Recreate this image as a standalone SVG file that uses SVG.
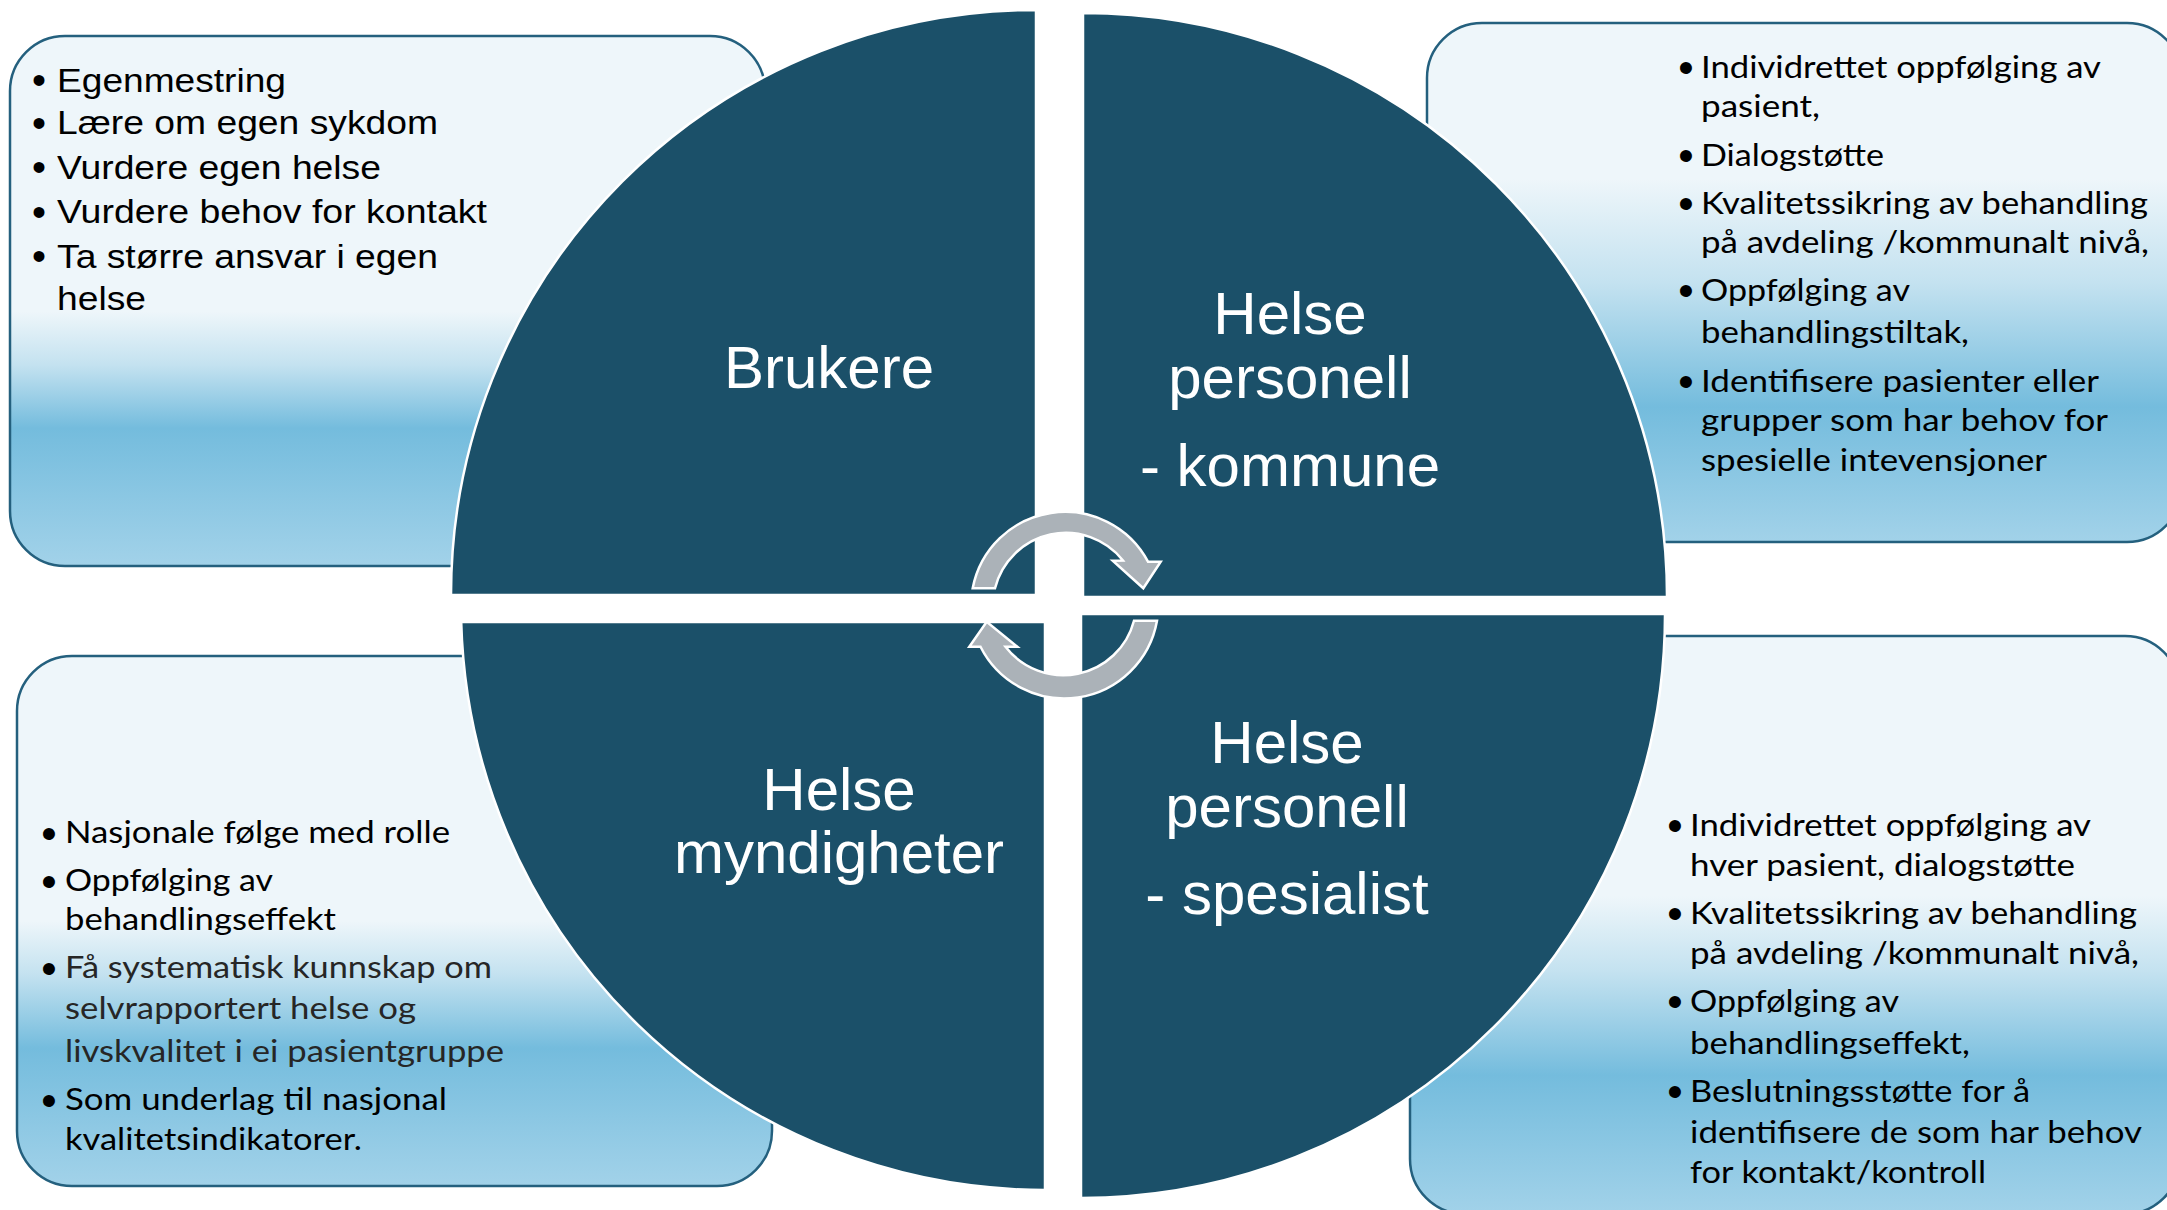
<svg xmlns="http://www.w3.org/2000/svg" width="2167" height="1210" viewBox="0 0 2167 1210">
<defs>
<linearGradient id="gTL" x1="0" y1="0" x2="0" y2="1">
<stop offset="0" stop-color="#eef6fa"/><stop offset="0.52" stop-color="#eef6fa"/><stop offset="0.62" stop-color="#c4e2f0"/><stop offset="0.74" stop-color="#74bcdd"/><stop offset="1" stop-color="#a2d2e9"/>
</linearGradient>
<linearGradient id="gTR" x1="0" y1="0" x2="0" y2="1">
<stop offset="0" stop-color="#eef6fa"/><stop offset="0.3" stop-color="#eef6fa"/><stop offset="0.5" stop-color="#c4e2f0"/><stop offset="0.74" stop-color="#74bcdd"/><stop offset="1" stop-color="#a2d2e9"/>
</linearGradient>
<linearGradient id="gBL" x1="0" y1="0" x2="0" y2="1">
<stop offset="0" stop-color="#eef6fa"/><stop offset="0.5" stop-color="#eef6fa"/><stop offset="0.6" stop-color="#c4e2f0"/><stop offset="0.74" stop-color="#74bcdd"/><stop offset="1" stop-color="#a2d2e9"/>
</linearGradient>
<linearGradient id="gBR" x1="0" y1="0" x2="0" y2="1">
<stop offset="0" stop-color="#eef6fa"/><stop offset="0.45" stop-color="#eef6fa"/><stop offset="0.58" stop-color="#c4e2f0"/><stop offset="0.76" stop-color="#74bcdd"/><stop offset="1" stop-color="#a2d2e9"/>
</linearGradient>
</defs>
<style>
.box{stroke:#24607e;stroke-width:2.5}
.quad{fill:#1b5069;stroke:#ffffff;stroke-width:2.5}
.lbl{font-family:"Liberation Sans",Arial,sans-serif;font-size:60px;fill:#ffffff;text-anchor:middle}
.la{font-family:"Liberation Sans",Arial,sans-serif;font-size:32.6px;fill:#000000}
.lc{font-family:Lato,"Open Sans",sans-serif;font-size:30.3px;fill:#000000}
.gray{fill:#262626}
.ba{font-family:"Liberation Sans",Arial,sans-serif;font-size:40px;fill:#000000;text-anchor:middle}
.bc{font-family:"Liberation Sans",Arial,sans-serif;font-size:44px;fill:#000000;text-anchor:middle}
.arrow{fill:#abb2b8;stroke:#ffffff;stroke-width:2.5;stroke-linejoin:miter}
</style>
<rect width="2167" height="1210" fill="#ffffff"/>

<g id="box-brukere">
<rect class="box" x="10" y="36" width="755" height="530" rx="55" ry="55" fill="url(#gTL)"/>
<text class="ba" x="39" y="94">•</text>
<text class="ba" x="39" y="137">•</text>
<text class="ba" x="39" y="181">•</text>
<text class="ba" x="39" y="226">•</text>
<text class="ba" x="39" y="270">•</text>
<text class="la" x="57" y="91.5" textLength="229" lengthAdjust="spacingAndGlyphs">Egenmestring</text>
<text class="la" x="57" y="134" textLength="381" lengthAdjust="spacingAndGlyphs">Lære om egen sykdom</text>
<text class="la" x="57" y="178.5" textLength="324" lengthAdjust="spacingAndGlyphs">Vurdere egen helse</text>
<text class="la" x="57" y="223" textLength="430" lengthAdjust="spacingAndGlyphs">Vurdere behov for kontakt</text>
<text class="la" x="57" y="268" textLength="381" lengthAdjust="spacingAndGlyphs">Ta større ansvar i egen</text>
<text class="la" x="57" y="310" textLength="89" lengthAdjust="spacingAndGlyphs">helse</text>
</g>

<g id="box-kommune">
<rect class="box" x="1427" y="23" width="755" height="519" rx="55" ry="55" fill="url(#gTR)"/>
<text class="bc" x="1686" y="83">•</text>
<text class="bc" x="1686" y="171">•</text>
<text class="bc" x="1686" y="219">•</text>
<text class="bc" x="1686" y="306">•</text>
<text class="bc" x="1686" y="397">•</text>
<text class="lc" x="1701" y="78" textLength="400" lengthAdjust="spacingAndGlyphs">Individrettet oppfølging av</text>
<text class="lc" x="1701" y="117" textLength="119" lengthAdjust="spacingAndGlyphs">pasient,</text>
<text class="lc" x="1701" y="166" textLength="183" lengthAdjust="spacingAndGlyphs">Dialogstøtte</text>
<text class="lc" x="1701" y="214" textLength="447" lengthAdjust="spacingAndGlyphs">Kvalitetssikring av behandling</text>
<text class="lc" x="1701" y="253" textLength="448" lengthAdjust="spacingAndGlyphs">på avdeling /kommunalt nivå,</text>
<text class="lc" x="1701" y="301" textLength="209" lengthAdjust="spacingAndGlyphs">Oppfølging av</text>
<text class="lc" x="1701" y="343" textLength="268" lengthAdjust="spacingAndGlyphs">behandlingstiltak,</text>
<text class="lc" x="1701" y="392" textLength="398" lengthAdjust="spacingAndGlyphs">Identifisere pasienter eller</text>
<text class="lc" x="1701" y="431" textLength="407" lengthAdjust="spacingAndGlyphs">grupper som har behov for</text>
<text class="lc" x="1701" y="471" textLength="346" lengthAdjust="spacingAndGlyphs">spesielle intevensjoner</text>
</g>

<g id="box-myndigheter">
<rect class="box" x="17" y="656" width="755" height="530" rx="55" ry="55" fill="url(#gBL)"/>
<text class="bc" x="49" y="849">•</text>
<text class="bc" x="49" y="897">•</text>
<text class="bc gray" x="49" y="984">•</text>
<text class="bc" x="49" y="1116">•</text>
<text class="lc" x="65" y="843" textLength="385" lengthAdjust="spacingAndGlyphs">Nasjonale følge med rolle</text>
<text class="lc" x="65" y="891" textLength="208" lengthAdjust="spacingAndGlyphs">Oppfølging av</text>
<text class="lc" x="65" y="930" textLength="271" lengthAdjust="spacingAndGlyphs">behandlingseffekt</text>
<text class="lc gray" x="65" y="978" textLength="427" lengthAdjust="spacingAndGlyphs">Få systematisk kunnskap om</text>
<text class="lc gray" x="65" y="1019" textLength="351" lengthAdjust="spacingAndGlyphs">selvrapportert helse og</text>
<text class="lc gray" x="65" y="1062" textLength="439" lengthAdjust="spacingAndGlyphs">livskvalitet i ei pasientgruppe</text>
<text class="lc" x="65" y="1110" textLength="382" lengthAdjust="spacingAndGlyphs">Som underlag til nasjonal</text>
<text class="lc" x="65" y="1150" textLength="297" lengthAdjust="spacingAndGlyphs">kvalitetsindikatorer.</text>
</g>

<g id="box-spesialist">
<rect class="box" x="1410" y="636" width="770" height="578" rx="55" ry="55" fill="url(#gBR)"/>
<text class="bc" x="1675" y="841">•</text>
<text class="bc" x="1675" y="929">•</text>
<text class="bc" x="1675" y="1017">•</text>
<text class="bc" x="1675" y="1107">•</text>
<text class="lc" x="1690" y="836" textLength="401" lengthAdjust="spacingAndGlyphs">Individrettet oppfølging av</text>
<text class="lc" x="1690" y="876" textLength="385" lengthAdjust="spacingAndGlyphs">hver pasient, dialogstøtte</text>
<text class="lc" x="1690" y="924" textLength="447" lengthAdjust="spacingAndGlyphs">Kvalitetssikring av behandling</text>
<text class="lc" x="1690" y="964" textLength="449" lengthAdjust="spacingAndGlyphs">på avdeling /kommunalt nivå,</text>
<text class="lc" x="1690" y="1012" textLength="209" lengthAdjust="spacingAndGlyphs">Oppfølging av</text>
<text class="lc" x="1690" y="1054" textLength="280" lengthAdjust="spacingAndGlyphs">behandlingseffekt,</text>
<text class="lc" x="1690" y="1102" textLength="340" lengthAdjust="spacingAndGlyphs">Beslutningsstøtte for å</text>
<text class="lc" x="1690" y="1143" textLength="452" lengthAdjust="spacingAndGlyphs">identifisere de som har behov</text>
<text class="lc" x="1690" y="1183" textLength="296" lengthAdjust="spacingAndGlyphs">for kontakt/kontroll</text>
</g>

<g id="quad-brukere">
<path class="quad" d="M 1036 595 L 451 595 A 585 585 0 0 1 1036 10 Z"/>
<text class="lbl" x="829" y="388">Brukere</text>
</g>
<g id="quad-kommune">
<path class="quad" d="M 1083 597 L 1083 13 A 584 584 0 0 1 1667 597 Z"/>
<text class="lbl" x="1290" y="334">Helse</text>
<text class="lbl" x="1290" y="398">personell</text>
<text class="lbl" x="1290" y="486">- kommune</text>
</g>
<g id="quad-spesialist">
<path class="quad" d="M 1081 614 L 1665 614 A 584 584 0 0 1 1081 1198 Z"/>
<text class="lbl" x="1287" y="763">Helse</text>
<text class="lbl" x="1287" y="827">personell</text>
<text class="lbl" x="1287" y="914">- spesialist</text>
</g>
<g id="quad-myndigheter">
<path class="quad" d="M 1045 622 L 461.2 622 A 584 584 0 0 0 1045 1190 Z"/>
<text class="lbl" x="839" y="810">Helse</text>
<text class="lbl" x="839" y="873">myndigheter</text>
</g>

<g id="connectors">
<path class="arrow" d="M 972.7 588.3 A 94 94 0 0 1 1148 561.7 L 1160.7 561.7 L 1143.3 588.3 L 1112.7 560.7 L 1123 560.5 A 73 73 0 0 0 995 588.3 Z"/>
<path class="arrow" d="M 1157 620.7 A 94 94 0 0 1 980.5 646.7 L 969.3 646.7 L 986.7 621.7 L 1017.3 646.7 L 1005.5 646.7 A 73 73 0 0 0 1134 620.7 Z"/>
</g>
</svg>
